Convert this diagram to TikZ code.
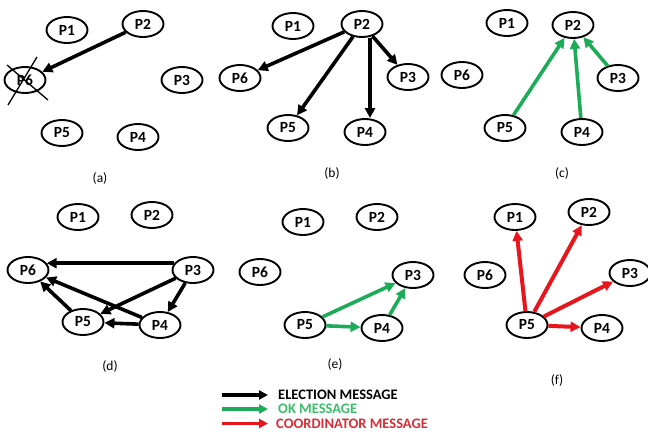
\documentclass[tikz,border=0pt]{standalone}
\usepackage{fontspec}
\setmainfont{Carlito}
\usetikzlibrary{shapes.geometric,arrows.meta}
\definecolor{okgreen}{RGB}{28,172,88}
\definecolor{okgreentxt}{RGB}{60,190,105}
\definecolor{coordred}{RGB}{232,22,28}
\definecolor{coordredtxt}{RGB}{215,45,55}
\begin{document}
\begin{tikzpicture}[x=1pt,y=-1pt,
  proc/.style={ellipse,draw,line width=1.9pt,minimum width=41pt,minimum height=26pt,inner sep=0pt,font=\fontsize{15.5}{15.5}\selectfont\bfseries},
  capt/.style={font=\fontsize{13.5}{13.5}\selectfont},
  elec/.style={line width=3.6pt,-{Triangle[length=10pt,width=10pt]}},
  okm/.style={elec,draw=okgreen,-{Triangle[length=10pt,width=10pt,fill=okgreen]}},
  coordm/.style={elec,draw=coordred,line width=4pt,-{Triangle[length=10pt,width=10pt,fill=coordred]}},
  legtxt/.style={anchor=west,font=\fontsize{14.5}{14.5}\selectfont\bfseries,inner sep=0pt,text height=9.5pt,text depth=0pt},
  legarrow/.style={line width=3.4pt},
  crossline/.style={line width=1.3pt}
]
\useasboundingbox (0,0) rectangle (648,434);

% ---------- (a)
\node[proc] (a1) at (67,30) {P1};
\node[proc] (a2) at (143,24) {P2};
\node[proc] (a3) at (182,80) {P3};
\node[proc] (a4) at (138,137) {P4};
\node[proc] (a5) at (62,133) {P5};
\node[proc] (a6) at (25,80) {P6};
\draw[elec] (a2) -- (a6);
\draw[crossline] (a6.center) ++(-18,-15) -- ++(41,35);
\draw[crossline] (a6.center) ++(12,-23) -- ++(-29,48);
\node[capt] (la) at (100,178) {(a)};

% ---------- (b)
\node[proc] (b1) at (293,26) {P1};
\node[proc] (b2) at (362,24) {P2};
\node[proc] (b3) at (408,77) {P3};
\node[proc] (b4) at (365,132) {P4};
\node[proc] (b5) at (288,128) {P5};
\node[proc] (b6) at (240,78) {P6};
\draw[elec] (b2) -- (b6);
\draw[elec] (b2) -- (b5);
\draw[elec] (b2.south) ++(8,0) coordinate (b2s) -- (b2s |- b4.north);
\draw[elec] (b2) -- (b3);
\node[capt] (lb) at (332,173) {(b)};

% ---------- (c)
\node[proc] (c1) at (507,23) {P1};
\node[proc] (c2) at (573,25) {P2};
\node[proc] (c3) at (618,78) {P3};
\node[proc] (c4) at (582,132) {P4};
\node[proc] (c5) at (505,128) {P5};
\node[proc] (c6) at (462,75) {P6};
\draw[okm] (c5) -- (c2);
\draw[okm] (c4) -- (c2);
\draw[okm] (c3) -- (c2);
\node[capt] (lc) at (562,173) {(c)};

% ---------- (d)
\node[proc] (d1) at (78,217) {P1};
\node[proc] (d2) at (152,215) {P2};
\node[proc] (d3) at (193,270) {P3};
\node[proc] (d4) at (160,325) {P4};
\node[proc] (d5) at (83,322) {P5};
\node[proc] (d6) at (28,270) {P6};
\draw[elec] (d3.160) -- (d6.20);
\draw[elec] (d3) -- (d5);
\draw[elec] (d3) -- (d4);
\draw[elec] (d4) -- (d6);
\draw[elec] (d4) -- (d5);
\draw[elec] (d5) -- (d6);
\node[capt] (ld) at (110,366) {(d)};

% ---------- (e)
\node[proc] (e1) at (303,222) {P1};
\node[proc] (e2) at (377,217) {P2};
\node[proc] (e3) at (413,275) {P3};
\node[proc] (e4) at (382,328) {P4};
\node[proc] (e5) at (305,325) {P5};
\node[proc] (e6) at (260,272) {P6};
\draw[okm] (e5) -- (e3);
\draw[okm] (e5) -- (e4);
\draw[okm] (e4) -- (e3);
\node[capt] (le) at (335,364) {(e)};

% ---------- (f)
\node[proc] (f1) at (515,217) {P1};
\node[proc] (f2) at (589,212) {P2};
\node[proc] (f3) at (630,273) {P3};
\node[proc] (f4) at (602,328) {P4};
\node[proc] (f5) at (527,325) {P5};
\node[proc] (f6) at (485,275) {P6};
\draw[coordm] (f5) -- (f1);
\draw[coordm] (f5) -- (f2);
\draw[coordm] (f5) -- (f3);
\draw[coordm] (f5) -- (f4);
\node[capt] (lf) at (557,380) {(f)};

% ---------- legend
\coordinate (l1s) at (222,395); \coordinate (l1e) at (268,395);
\coordinate (l2s) at (222,409); \coordinate (l2e) at (268,409);
\coordinate (l3s) at (222,423.5); \coordinate (l3e) at (268,423.5);
\draw[elec,legarrow,-{Triangle[length=9pt,width=9pt]}] (l1s) -- (l1e);
\draw[okm,legarrow,-{Triangle[length=9pt,width=9pt,fill=okgreen]}] (l2s) -- (l2e);
\draw[coordm,legarrow,-{Triangle[length=9pt,width=9pt,fill=coordred]}] (l3s) -- (l3e);
\node[legtxt] (t1) at (278,395) {ELECTION MESSAGE};
\node[legtxt,text=okgreentxt] (t2) at (278,409) {OK MESSAGE};
\node[legtxt,text=coordredtxt] (t3) at (276,423.5) {COORDINATOR MESSAGE};
\end{tikzpicture}
\end{document}
